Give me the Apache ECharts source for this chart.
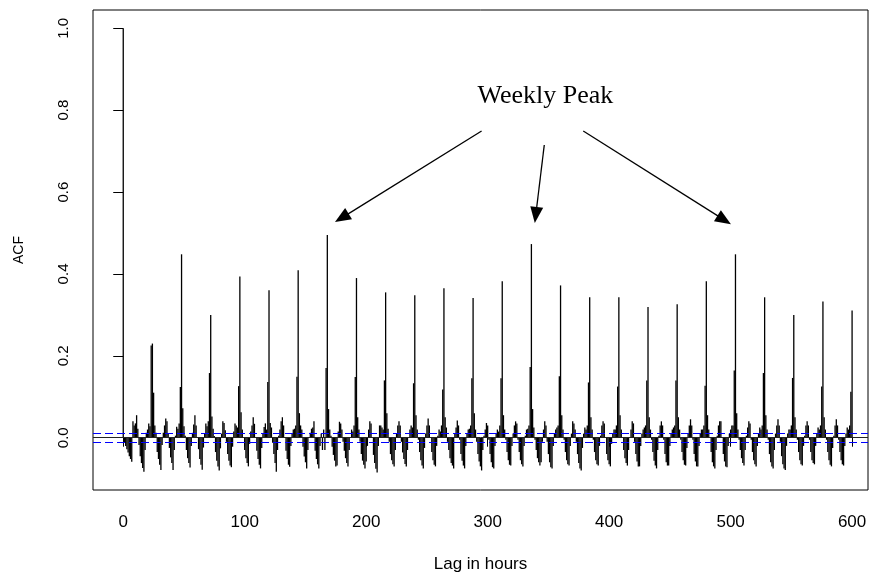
<!DOCTYPE html>
<html>
<head>
<meta charset="utf-8">
<script src="https://cdn.jsdelivr.net/npm/echarts@6/dist/echarts.min.js"></script>
<style>html,body{margin:0;padding:0;background:#fff}#chart{width:870px;height:575px}</style>
</head>
<body>
<div id="chart"></div>
<script>
// ACF values, one line per day (24 lags), lag 0 .. 600
const week1 = [
  1.000, -0.012, -0.020, -0.028, -0.036, -0.045, -0.052, -0.059, 0.040, 0.030, 0.035, 0.055, 0.022, -0.018, -0.045, -0.062, -0.074, -0.083, -0.030, 0.012, 0.020, 0.035, 0.028, 0.225,
  0.230, 0.110, 0.030, 0.012, -0.035, -0.052, -0.066, -0.079, -0.018, 0.012, 0.030, 0.047, 0.040, 0.010, -0.025, -0.048, -0.062, -0.079, -0.030, 0.005, 0.027, 0.022, 0.035, 0.124,
  0.448, 0.072, 0.028, 0.005, -0.030, -0.050, -0.062, -0.073, -0.020, 0.012, 0.032, 0.055, 0.030, 0.002, -0.028, -0.052, -0.066, -0.078, -0.024, 0.010, 0.035, 0.028, 0.040, 0.158,
  0.300, 0.052, 0.022, 0.004, -0.035, -0.056, -0.070, -0.080, -0.026, 0.010, 0.040, 0.036, 0.018, -0.010, -0.040, -0.056, -0.068, -0.072, -0.022, 0.015, 0.035, 0.030, 0.025, 0.126,
  0.394, 0.062, 0.020, 0.000, -0.030, -0.050, -0.062, -0.070, -0.015, 0.015, 0.030, 0.050, 0.034, 0.000, -0.032, -0.052, -0.066, -0.075, -0.025, 0.010, 0.026, 0.035, 0.020, 0.136,
  0.360, 0.036, 0.025, -0.012, -0.040, -0.062, -0.083, -0.030, 0.005, 0.020, 0.040, 0.050, 0.030, 0.000, -0.032, -0.052, -0.066, -0.071, -0.020, 0.010, 0.020, 0.022, 0.030, 0.149,
  0.409, 0.060, 0.030, 0.020, -0.022, -0.046, -0.060, -0.075, -0.030, 0.000, 0.012, 0.022, 0.025, 0.040, -0.032, -0.052, -0.065, -0.075, -0.020, 0.010, -0.030, 0.020, -0.030, 0.170
];
const week2 = [
  0.495, 0.070, 0.020, 0.005, -0.022, -0.042, -0.056, -0.070, -0.068, 0.015, 0.039, 0.035, 0.020, -0.010, -0.032, -0.050, -0.062, -0.070, -0.030, 0.000, 0.020, 0.015, 0.030, 0.148,
  0.390, 0.050, 0.020, -0.010, -0.040, -0.056, -0.066, -0.075, -0.058, -0.020, 0.020, 0.040, 0.035, 0.000, -0.042, -0.062, -0.076, -0.085, -0.020, 0.030, 0.030, 0.025, 0.020, 0.140,
  0.355, 0.060, 0.022, -0.010, -0.040, -0.055, -0.065, -0.070, -0.030, 0.010, 0.030, 0.040, 0.030, -0.010, -0.036, -0.052, -0.064, -0.070, -0.030, 0.000, 0.020, 0.030, 0.025, 0.133,
  0.348, 0.055, 0.020, -0.005, -0.035, -0.055, -0.068, -0.075, -0.025, 0.010, 0.030, 0.047, 0.030, 0.000, -0.035, -0.055, -0.066, -0.070, -0.020, 0.005, 0.020, 0.015, 0.030, 0.118,
  0.365, 0.050, 0.025, -0.010, -0.030, -0.050, -0.062, -0.068, -0.075, 0.010, 0.025, 0.042, 0.030, -0.005, -0.040, -0.056, -0.068, -0.075, -0.020, 0.010, 0.020, 0.022, 0.030, 0.145,
  0.341, 0.060, 0.020, -0.010, -0.040, -0.058, -0.070, -0.080, -0.030, 0.005, 0.020, 0.036, 0.030, -0.005, -0.040, -0.060, -0.072, -0.075, -0.020, 0.010, 0.020, 0.015, 0.030, 0.145,
  0.382, 0.055, 0.020, -0.005, -0.035, -0.055, -0.066, -0.068, -0.020, 0.010, 0.030, 0.040, 0.035, -0.005, -0.035, -0.055, -0.065, -0.070, -0.020, 0.005, 0.020, 0.022, 0.030, 0.173
];
const week3 = [
  0.473, 0.070, 0.025, -0.005, -0.030, -0.050, -0.060, -0.068, -0.060, -0.010, 0.020, 0.040, 0.030, -0.010, -0.040, -0.060, -0.072, -0.075, -0.020, 0.010, 0.020, 0.025, 0.030, 0.150,
  0.372, 0.055, 0.020, -0.005, -0.035, -0.055, -0.065, -0.068, -0.020, 0.010, 0.040, 0.035, 0.020, -0.010, -0.040, -0.062, -0.075, -0.080, -0.025, 0.010, 0.025, 0.020, 0.030, 0.135,
  0.343, 0.050, 0.020, -0.005, -0.035, -0.055, -0.065, -0.068, -0.020, 0.005, 0.030, 0.040, 0.035, 0.000, -0.040, -0.055, -0.065, -0.070, -0.015, 0.010, 0.020, 0.020, 0.030, 0.125,
  0.343, 0.055, 0.020, 0.000, -0.030, -0.050, -0.062, -0.068, -0.030, 0.000, 0.020, 0.040, 0.035, -0.010, -0.040, -0.058, -0.070, -0.070, -0.020, 0.010, 0.020, 0.025, 0.030, 0.140,
  0.319, 0.050, 0.020, -0.005, -0.035, -0.056, -0.068, -0.075, -0.030, 0.005, 0.030, 0.040, 0.030, -0.005, -0.040, -0.060, -0.068, -0.068, -0.020, 0.010, 0.020, 0.025, 0.030, 0.140,
  0.326, 0.050, 0.020, -0.005, -0.035, -0.055, -0.066, -0.068, -0.025, 0.010, 0.030, 0.045, 0.030, -0.005, -0.040, -0.058, -0.070, -0.070, -0.020, 0.010, 0.020, 0.020, 0.030, 0.127,
  0.382, 0.055, 0.020, 0.000, -0.035, -0.060, -0.070, -0.075, -0.030, 0.005, 0.030, 0.040, 0.040, 0.000, -0.040, -0.058, -0.070, -0.072, -0.020, 0.010, 0.020, 0.030, 0.030, 0.164
];
const week4 = [
  0.448, 0.060, 0.020, -0.005, -0.030, -0.050, -0.062, -0.068, -0.030, 0.005, 0.025, 0.040, 0.035, -0.005, -0.035, -0.055, -0.065, -0.070, -0.020, 0.010, 0.025, 0.020, 0.030, 0.158,
  0.343, 0.055, 0.020, -0.005, -0.040, -0.060, -0.070, -0.075, -0.030, 0.010, 0.030, 0.045, 0.030, -0.010, -0.045, -0.065, -0.075, -0.079, -0.020, 0.010, 0.020, 0.020, 0.030, 0.146,
  0.300, 0.050, 0.020, -0.005, -0.035, -0.055, -0.065, -0.068, -0.020, 0.005, 0.030, 0.040, 0.030, -0.005, -0.035, -0.055, -0.062, -0.065, -0.020, 0.010, 0.025, 0.020, 0.030, 0.125,
  0.333, 0.050, 0.020, -0.005, -0.035, -0.055, -0.066, -0.070, -0.025, 0.005, 0.030, 0.045, 0.030, -0.005, -0.035, -0.055, -0.065, -0.068, -0.020, 0.010, 0.025, 0.020, 0.030, 0.112,
  0.311
];
const ciBound = 0.0118;                       // ±1.96/sqrt(n)
const xTicks = [0, 100, 200, 300, 400, 500, 600];
const yTicks = [0, 0.2, 0.4, 0.6, 0.8, 1.0];
const annotationText = 'Weekly Peak';
const textAnchor = [347.5, 0.835];            // data coords (lag, acf)
const arrows = [                              // [from, to] in data coords
  [[295.0, 0.749], [179.9, 0.537]],
  [[346.6, 0.715], [339.6, 0.544]],
  [[378.7, 0.749], [494.7, 0.532]]
];

const acf = [].concat(week1, week2, week3, week4);
const barData = acf.map((v, i) => [i, v]);

const chart = echarts.init(document.getElementById('chart'), null, {renderer: 'canvas'});
const sans = 'Liberation Sans, Arial, sans-serif';
chart.setOption({
  animation: false,
  backgroundColor: '#fff',
  grid: {left: 93, right: 2, top: 10, bottom: 85, show: true, borderColor: '#000', borderWidth: 1,
    containLabel: false, outerBoundsMode: 'none'},
  xAxis: {
    type: 'value', min: -24.9, max: 613.1,
    name: 'Lag in hours', nameLocation: 'middle', nameGap: 66,
    nameTextStyle: {fontFamily: sans, fontSize: 17, color: '#000'},
    axisLine: {show: false},
    axisTick: {show: true, length: 9, customValues: xTicks, lineStyle: {color: '#000'}},
    axisLabel: {customValues: xTicks, fontFamily: sans, fontSize: 17, color: '#000', margin: 24},
    splitLine: {show: false}
  },
  yAxis: {
    type: 'value', min: -0.1277, max: 1.0447,
    name: 'ACF', nameLocation: 'middle', nameGap: 67, nameRotate: 90,
    nameTextStyle: {fontFamily: sans, fontSize: 14, color: '#000'},
    axisLine: {show: false},
    axisTick: {show: true, length: 10, customValues: yTicks, lineStyle: {color: '#000'}},
    axisLabel: {customValues: yTicks, rotate: 90, fontFamily: sans, fontSize: 15, color: '#000', margin: 22,
      formatter: v => v.toFixed(1)},
    splitLine: {show: false}
  },
  series: [
    {
      type: 'bar', data: barData, barWidth: 1.3, silent: true,
      itemStyle: {color: '#000'},
      markLine: {
        silent: true, symbol: ['none', 'none'], label: {show: false}, z: 10,
        data: [
          {yAxis: 0, lineStyle: {color: '#222', type: 'solid', width: 1}},
          {yAxis: ciBound, lineStyle: {color: '#0000ff', type: [8, 4], width: 1.2, opacity: 1}},
          {yAxis: -ciBound, lineStyle: {color: '#0000ff', type: [8, 4], width: 1.2, opacity: 1}}
        ]
      }
    },
    {
      type: 'line', data: [], silent: true,
      markLine: {
        silent: true, symbol: ['none', 'triangle'], symbolSize: [13, 16],
        label: {show: false},
        lineStyle: {color: '#000', type: 'solid', width: 1.3},
        data: arrows.map(a => [{coord: a[0]}, {coord: a[1]}])
      },
      markPoint: {
        silent: true, symbol: 'circle', symbolSize: 0,
        label: {show: true, position: 'inside', formatter: annotationText,
          fontFamily: 'Liberation Serif, Times New Roman, serif', fontSize: 26, color: '#000'},
        data: [{coord: textAnchor}]
      }
    }
  ]
});
</script>
</body>
</html>
